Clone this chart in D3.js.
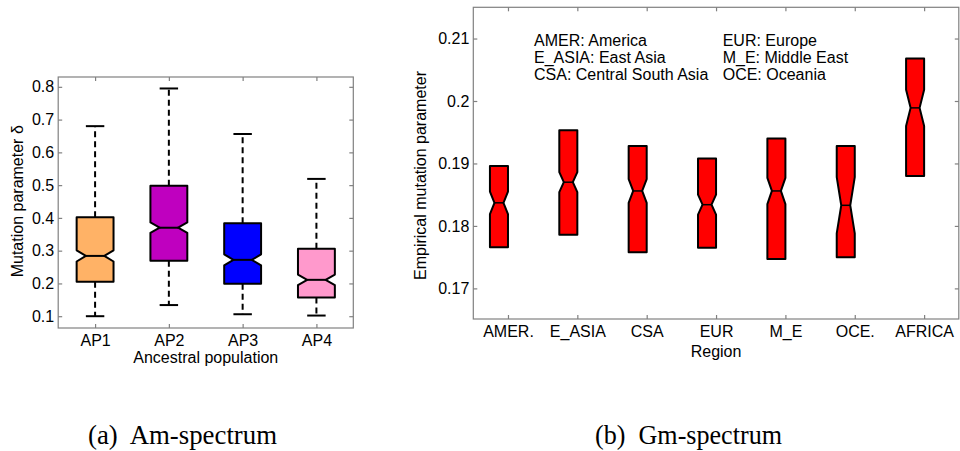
<!DOCTYPE html>
<meta charset="utf-8">
<title>Mutation parameter box plots</title>
<script src="https://d3js.org/d3.v7.min.js"></script>
<style>
    body { margin: 0; background: #fff; }
    svg text { font-family: "Liberation Sans", Arial, Helvetica, sans-serif; fill: #000; }
    .caption { font-family: "Liberation Serif", "Times New Roman", serif; font-size: 27px; }
</style>
<body>
<script>

    // (a) Am-spectrum : ancestral populations
    const apCats  = ["AP1", "AP2", "AP3", "AP4"];
    const apColor = ["#ffb266", "#bf00bf", "#0000ff", "#ff99cc"];
    const apLow   = [0.100, 0.134, 0.106, 0.102];
    const apQ1    = [0.205, 0.269, 0.199, 0.157];
    const apMed   = [0.284, 0.370, 0.272, 0.211];
    const apQ3    = [0.402, 0.498, 0.384, 0.306];
    const apHigh  = [0.680, 0.795, 0.656, 0.519];
    const apNotch = [0.017, 0.016, 0.017, 0.016];   // half height of notch
    const apTicks = [0.1, 0.2, 0.3, 0.4, 0.5, 0.6, 0.7, 0.8];

    // (b) Gm-spectrum : regions
    const regions = ["AMER.", "E_ASIA", "CSA", "EUR", "M_E", "OCE.", "AFRICA"];
    const gmQ1    = [0.1766, 0.1786, 0.1758, 0.1765, 0.1747, 0.1750, 0.1880];
    const gmMed   = [0.1837, 0.1870, 0.1856, 0.1834, 0.1856, 0.1833, 0.1989];
    const gmQ3    = [0.1896, 0.1953, 0.1928, 0.1908, 0.1940, 0.1928, 0.2068];
    const gmNotch = [0.0018, 0.0016, 0.0019, 0.0016, 0.0021, 0.0045, 0.0029];
    const gmTicks = [0.17, 0.18, 0.19, 0.2, 0.21];
    const legend1 = ["AMER: America", "E_ASIA: East Asia", "CSA: Central South Asia"];
    const legend2 = ["EUR: Europe", "M_E: Middle East", "OCE: Oceania"];

    const captions = ["(a)\u00a0 Am-spectrum", "(b)\u00a0 Gm-spectrum"];

    const width = 960, height = 451;
    const frameColor = "#808080";

    const svg = d3.select("body").append("svg")
        .attr("width", width)
        .attr("height", height);

    // notched box outline
    const notchPath = (cx, hw, q1, nlo, med, nhi, q3) =>
        "M" + (cx - hw) + "," + q1 +
        "L" + (cx - hw) + "," + nlo +
        "L" + (cx - hw / 2) + "," + med +
        "L" + (cx - hw) + "," + nhi +
        "L" + (cx - hw) + "," + q3 +
        "L" + (cx + hw) + "," + q3 +
        "L" + (cx + hw) + "," + nhi +
        "L" + (cx + hw / 2) + "," + med +
        "L" + (cx + hw) + "," + nlo +
        "L" + (cx + hw) + "," + q1 + "Z";

    // draws frame + ticks on all four sides
    const drawFrame = (g, x, y, nCats, cats, yTicks, fmt) => {
        const [x0, x1] = x.range();
        const [y1, y0] = y.range();
        g.append("rect")
            .attr("x", x0).attr("y", y0)
            .attr("width", x1 - x0).attr("height", y1 - y0)
            .attr("fill", "none").attr("stroke", frameColor).attr("stroke-width", 1.2);

        const pos = d3.range(1, nCats + 1);
        const styleAxis = a => {
            a.select(".domain").remove();
            a.selectAll("line").attr("stroke", frameColor).attr("stroke-width", 1.2);
        };

        g.append("g").attr("transform", "translate(" + x0 + ",0)")
            .call(d3.axisLeft(y).tickValues(yTicks).tickFormat(fmt).tickSize(-4).tickPadding(4))
            .call(styleAxis)
            .selectAll("text").attr("font-size", 16).attr("fill", "#000");
        g.append("g").attr("transform", "translate(" + x1 + ",0)")
            .call(d3.axisRight(y).tickValues(yTicks).tickFormat("").tickSize(-4))
            .call(styleAxis);
        g.append("g").attr("transform", "translate(0," + y1 + ")")
            .call(d3.axisBottom(x).tickValues(pos).tickFormat(d => cats[d - 1]).tickSize(-4).tickPadding(7))
            .call(styleAxis)
            .selectAll("text").attr("font-size", 16).attr("fill", "#000");
        g.append("g").attr("transform", "translate(0," + y0 + ")")
            .call(d3.axisTop(x).tickValues(pos).tickFormat("").tickSize(-4))
            .call(styleAxis);
    };

    // ---------- (a) ----------
    const xA = d3.scaleLinear().domain([0.5, 4.5]).range([58.2, 353.3]);
    const yA = d3.scaleLinear().domain([0.064, 0.83]).range([328, 77]);
    const gA = svg.append("g");

    const boxW = xA(1.25) - xA(1);     // half width of box
    const capW = xA(1.125) - xA(1);    // half width of whisker cap

    apCats.forEach((c, i) => {
        const cx = xA(i + 1);
        // dashed whiskers
        [[apQ3[i], apHigh[i]], [apQ1[i], apLow[i]]].forEach(([a, b]) => {
            gA.append("line")
                .attr("x1", cx).attr("x2", cx)
                .attr("y1", yA(a)).attr("y2", yA(b))
                .attr("stroke", "#000").attr("stroke-width", 2)
                .attr("stroke-dasharray", "6,4");
            gA.append("line")
                .attr("x1", cx - capW).attr("x2", cx + capW)
                .attr("y1", yA(b)).attr("y2", yA(b))
                .attr("stroke", "#000").attr("stroke-width", 2);
        });
        gA.append("path")
            .attr("d", notchPath(cx, boxW, yA(apQ1[i]), yA(apMed[i] - apNotch[i]), yA(apMed[i]),
                                 yA(apMed[i] + apNotch[i]), yA(apQ3[i])))
            .attr("fill", apColor[i]).attr("stroke", "#000").attr("stroke-width", 2)
            .attr("stroke-linejoin", "round");
        gA.append("line")
            .attr("x1", cx - boxW / 2).attr("x2", cx + boxW / 2)
            .attr("y1", yA(apMed[i])).attr("y2", yA(apMed[i]))
            .attr("stroke", "#000").attr("stroke-width", 2);
    });

    drawFrame(gA, xA, yA, apCats.length, apCats, apTicks, d3.format(".1f"));

    gA.append("text")
        .attr("transform", "translate(23.3,277.3) rotate(-90)")
        .attr("font-size", 16)
        .text("Mutation parameter δ");
    gA.append("text")
        .attr("x", xA(2.5)).attr("y", 363)
        .attr("text-anchor", "middle").attr("font-size", 16)
        .text("Ancestral population");

    // ---------- (b) ----------
    const xB = d3.scaleLinear().domain([0.5, 7.5]).range([473.3, 958.8]);
    const yB = d3.scaleLinear().domain([0.1651, 0.2150]).range([319, 7.3]);
    const gB = svg.append("g");

    const boxWB = xB(1.13) - xB(1);

    regions.forEach((r, i) => {
        const cx = xB(i + 1 - 0.13);
        gB.append("path")
            .attr("d", notchPath(cx, boxWB, yB(gmQ1[i]), yB(gmMed[i] - gmNotch[i]), yB(gmMed[i]),
                                 yB(gmMed[i] + gmNotch[i]), yB(gmQ3[i])))
            .attr("fill", "#ff0000").attr("stroke", "#000").attr("stroke-width", 2)
            .attr("stroke-linejoin", "round");
        gB.append("line")
            .attr("x1", cx - boxWB / 2).attr("x2", cx + boxWB / 2)
            .attr("y1", yB(gmMed[i])).attr("y2", yB(gmMed[i]))
            .attr("stroke", "#000").attr("stroke-width", 1.5);
    });

    drawFrame(gB, xB, yB, regions.length, regions, gmTicks, d => String(+d.toFixed(2)));

    gB.selectAll(".leg1").data(legend1).enter().append("text")
        .attr("x", 534).attr("y", (d, i) => 46 + i * 17)
        .attr("font-size", 16).text(d => d);
    gB.selectAll(".leg2").data(legend2).enter().append("text")
        .attr("x", 722.7).attr("y", (d, i) => 46 + i * 17)
        .attr("font-size", 16).text(d => d);

    gB.append("text")
        .attr("transform", "translate(425.7,280) rotate(-90)")
        .attr("font-size", 16)
        .text("Empirical mutation parameter");
    gB.append("text")
        .attr("x", xB(4)).attr("y", 357)
        .attr("text-anchor", "middle").attr("font-size", 16)
        .text("Region");

    // ---------- captions ----------
    const capX = [88, 595], capLen = [189, 187];
    svg.selectAll(".caption").data(captions).enter().append("text")
        .attr("class", "caption")
        .attr("x", (d, i) => capX[i]).attr("y", 444)
        .attr("textLength", (d, i) => capLen[i])
        .attr("lengthAdjust", "spacingAndGlyphs")
        .text(d => d);

</script>
</body>
